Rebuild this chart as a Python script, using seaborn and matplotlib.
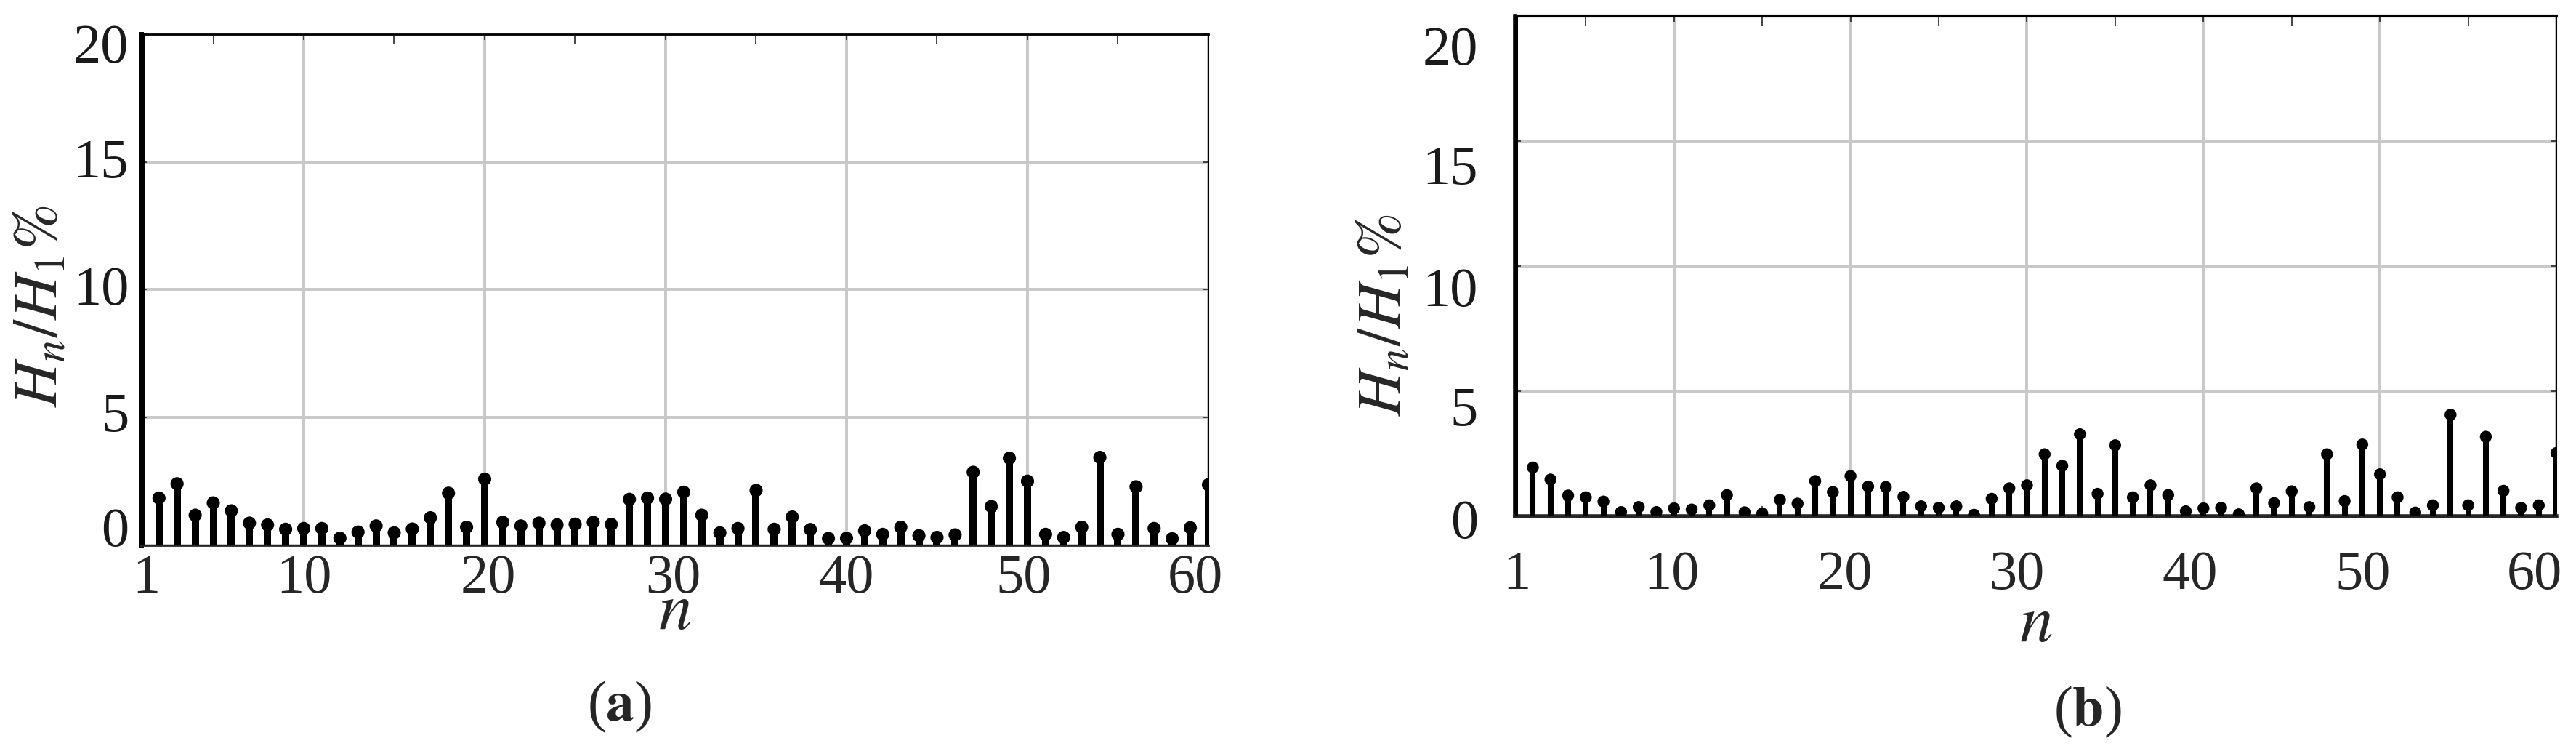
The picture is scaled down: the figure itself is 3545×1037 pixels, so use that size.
import numpy as np
import pandas as pd
import seaborn as sns
import matplotlib.pyplot as plt
from matplotlib.transforms import ScaledTranslation

# harmonic order and H_n/H_1 (%)
harmonic = np.arange(1, 61)
ratio_a = [100, 1.85, 2.41, 1.18, 1.66, 1.35, 0.87, 0.80, 0.63, 0.66,
           0.66, 0.28, 0.52, 0.76, 0.49, 0.64, 1.08, 2.04, 0.71, 2.59,
           0.90, 0.76, 0.87, 0.80, 0.83, 0.90, 0.82, 1.80, 1.85, 1.81,
           2.08, 1.18, 0.49, 0.66, 2.15, 0.63, 1.11, 0.62, 0.27, 0.28,
           0.57, 0.43, 0.71, 0.38, 0.31, 0.41, 2.86, 1.52, 3.41, 2.51,
           0.43, 0.31, 0.71, 3.44, 0.43, 2.29, 0.66, 0.26, 0.69, 2.37]
ratio_b = [100, 1.95, 1.47, 0.83, 0.76, 0.59, 0.17, 0.37, 0.17, 0.32,
           0.27, 0.44, 0.85, 0.16, 0.11, 0.66, 0.51, 1.41, 0.97, 1.61,
           1.19, 1.17, 0.78, 0.40, 0.34, 0.40, 0.06, 0.70, 1.12, 1.24,
           2.48, 2.02, 3.28, 0.90, 2.84, 0.76, 1.24, 0.85, 0.20, 0.32,
           0.34, 0.08, 1.12, 0.53, 1.00, 0.37, 2.48, 0.61, 2.87, 1.68,
           0.76, 0.15, 0.44, 4.06, 0.44, 3.18, 1.02, 0.34, 0.44, 2.53]
xticks = [1, 10, 20, 30, 40, 50, 60]
xticks_minor = [5, 15, 25, 35, 45, 55]
yticks = [0, 5, 10, 15, 20]
captions = ['a', 'b']

sns.set_style('ticks')
plt.rcParams['font.family'] = ['Liberation Serif', 'DejaVu Serif']
plt.rcParams['mathtext.fontset'] = 'stix'

fig = plt.figure(figsize=(35.45, 10.37), dpi=100)
ax_a = fig.add_axes([0.0547, 0.2768, 0.4144, 0.6779])
ax_b = fig.add_axes([0.5882, 0.3153, 0.4042, 0.6635])


def draw_spectrum(ax, values, stem_w, dot_s, xpad, ypad, left_w, bottom_w, top_w):
    df = pd.DataFrame({'n': harmonic, 'ratio': values})
    ax.vlines(df['n'], 0, df['ratio'], color='black', linewidth=stem_w, zorder=3)
    sns.scatterplot(data=df, x='n', y='ratio', ax=ax, color='black', s=dot_s,
                    edgecolor='none', zorder=4, legend=False)
    ax.set_xlim(1, 60)
    ax.set_ylim(0, 20)
    ax.set_xticks(xticks)
    ax.set_xticks(xticks_minor, minor=True)
    ax.set_yticks(yticks)
    ax.grid(True, which='major', color='#c8c8c8', linewidth=2.8)
    ax.set_axisbelow(True)
    ax.tick_params(which='both', direction='in', top=True, right=True,
                   color='#262626', width=1.2)
    ax.tick_params(which='major', length=6)
    ax.tick_params(which='minor', length=10)
    ax.tick_params(axis='x', which='major', pad=xpad, labelsize=55, labelcolor='#262626')
    ax.tick_params(axis='y', which='major', pad=ypad, labelsize=55, labelcolor='#1a1a1a')
    ax.spines['left'].set_linewidth(left_w)
    ax.spines['left'].set_color('black')
    ax.spines['top'].set_linewidth(top_w)
    ax.spines['top'].set_color('black')
    ax.spines['right'].set_linewidth(1.5)
    ax.spines['right'].set_color('black')
    ax.spines['bottom'].set_linewidth(bottom_w)
    ax.spines['bottom'].set_color('#262626')
    ax.set_xlabel(r'$n$', fontsize=66)
    ax.set_ylabel(r'$H_n/H_\mathit{1}\%$', fontsize=62)
    ax.xaxis.label.set_va('center')
    ax.yaxis.label.set_va('center')


def nudge(labels, shifts_px):
    # small pixel shifts of tick labels, as in the source figure
    for lab, (dx, dy) in zip(labels, shifts_px):
        off = ScaledTranslation(dx * 0.72 / 72, -dy * 0.72 / 72, fig.dpi_scale_trans)
        lab.set_transform(lab.get_transform() + off)


draw_spectrum(ax_a, ratio_a, 7.2, 170, 9, 12, 5, 2, 2)
draw_spectrum(ax_b, ratio_b, 5.8, 140, 34, 37, 4, 4, 3)

ax_a.xaxis.set_label_coords(0.5, -0.132)
ax_a.yaxis.set_label_coords(-0.093, 0.468)
ax_b.xaxis.set_label_coords(0.5, -0.217)
ax_b.yaxis.set_label_coords(-0.125, 0.403)

nudge([t.label1 for t in ax_a.xaxis.get_major_ticks()],
      [(7, 0), (0, 0), (5, 0), (10, 0), (0, 0), (-5, 0), (-18, 0)])
nudge([t.label1 for t in ax_b.xaxis.get_major_ticks()],
      [(2, 0), (-3, 0), (-8, 0), (-14, 0), (-19, 0), (-24, 0), (-30, 0)])
nudge([t.label1 for t in ax_a.yaxis.get_major_ticks()],
      [(0, -25), (0, -8), (0, -6), (0, -5), (0, 13)])
nudge([t.label1 for t in ax_b.yaxis.get_major_ticks()],
      [(0, 3), (0, 20), (0, 28), (0, 33), (0, 41)])

fig.text(853 / 3545, 1 - 972 / 1037, '($\\mathbf{%s}$)' % captions[0],
         ha='center', va='center', fontsize=56)
fig.text(2873 / 3545, 1 - 979 / 1037, '($\\mathbf{%s}$)' % captions[1],
         ha='center', va='center', fontsize=56)

fig.savefig('out.png', dpi=100)
